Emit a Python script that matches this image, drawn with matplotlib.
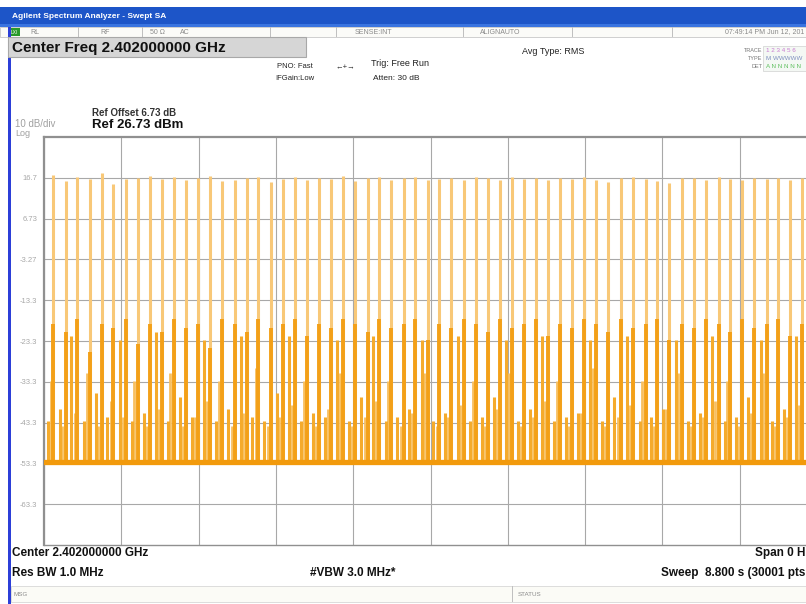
import matplotlib.pyplot as plt
from matplotlib.patches import Rectangle

plt.rcParams['font.family'] = ['Liberation Sans', 'DejaVu Sans']

# 화면 설정값
ref_level = 26.73
db_per_div = 10
sweep_time = 8.8
noise_floor = -53.0

y_ticks = [16.73, 6.73, -3.27, -13.27, -23.27, -33.27, -43.27, -53.27, -63.27]
y_tick_labels = ['16.7', '6.73', '-3.27', '-13.3', '-23.3', '-33.3', '-43.3', '-53.3', '-63.3']

# 큰 펄스 위치(s)와 피크(dBm)
pulse_t = [0.108, 0.245, 0.381, 0.518, 0.657, 0.789, 0.933, 1.067, 1.207, 1.340,
           1.480, 1.617, 1.753, 1.890, 2.026, 2.174, 2.308, 2.436, 2.581, 2.717,
           2.857, 2.994, 3.131, 3.267, 3.404, 3.540, 3.683, 3.819, 3.956, 4.093,
           4.229, 4.366, 4.502, 4.639, 4.781, 4.918, 5.054, 5.191, 5.328, 5.464,
           5.601, 5.737, 5.874, 6.011, 6.147, 6.284, 6.424, 6.565, 6.709, 6.853,
           6.975, 7.115, 7.260, 7.403, 7.536, 7.681, 7.810, 7.943, 8.086, 8.227,
           8.359, 8.493, 8.632]
pulse_pk = [17.5, 16.0, 17.0, 16.5, 17.8, 15.2, 16.4, 16.8, 17.2, 16.5,
            17.0, 16.2, 16.6, 17.1, 16.0, 16.3, 16.7, 16.9, 15.8, 16.4,
            17.0, 16.2, 16.8, 16.5, 17.2, 16.0, 16.6, 16.9, 16.3, 16.7,
            17.0, 16.1, 16.5, 16.8, 16.2, 16.9, 16.6, 16.3, 17.0, 16.4,
            16.7, 16.1, 16.8, 16.5, 16.9, 16.2, 15.6, 16.6, 16.9, 16.4,
            15.9, 15.4, 16.7, 16.8, 16.3, 16.9, 16.5, 16.1, 16.7, 16.4,
            16.8, 16.2, 16.6]
# 각 펄스 아래쪽의 진한 부분 높이(dBm)
pulse_mid = [-19, -21, -18, -26, -19, -20, -18, -24, -19, -21,
             -18, -20, -19, -25, -18, -19, -21, -18, -20, -19,
             -18, -22, -19, -20, -18, -19, -21, -18, -20, -19,
             -18, -23, -19, -20, -18, -19, -21, -18, -20, -19,
             -18, -22, -19, -20, -18, -19, -21, -18, -20, -19,
             -18, -23, -19, -20, -18, -19, -21, -18, -20, -19,
             -18, -22, -19]

# 펄스 사이의 작은 펄스 위치(s)와 피크(dBm)
minor_t = [0.05, 0.18, 0.31, 0.45, 0.59, 0.72, 0.86, 1.00, 1.14, 1.27,
           1.41, 1.55, 1.68, 1.82, 1.96, 2.10, 2.24, 2.37, 2.51, 2.65,
           2.79, 2.93, 3.06, 3.20, 3.34, 3.47, 3.61, 3.75, 3.89, 4.02,
           4.16, 4.30, 4.43, 4.57, 4.71, 4.85, 4.99, 5.12, 5.26, 5.40,
           5.53, 5.67, 5.81, 5.94, 6.08, 6.22, 6.35, 6.49, 6.64, 6.78,
           6.91, 7.05, 7.19, 7.33, 7.47, 7.61, 7.75, 7.88, 8.01, 8.16,
           8.29, 8.43, 8.56, 8.70]
minor_pk = [-43, -40, -22, -43, -36, -42, -23, -43, -41, -21,
            -43, -37, -42, -23, -43, -40, -22, -42, -43, -36,
            -22, -43, -41, -42, -23, -43, -37, -22, -43, -42,
            -40, -23, -43, -41, -22, -43, -42, -37, -23, -43,
            -40, -22, -43, -42, -41, -23, -43, -37, -22, -43,
            -42, -40, -23, -43, -41, -22, -43, -42, -37, -23,
            -43, -40, -22, -43]
minor2_t = [0.08, 0.21, 0.35, 0.49, 0.62, 0.76, 0.90, 1.03, 1.17, 1.31,
            1.44, 1.58, 1.72, 1.86, 1.99, 2.14, 2.27, 2.41, 2.55, 2.68,
            2.82, 2.96, 3.10, 3.23, 3.37, 3.51, 3.65, 3.78, 3.92, 4.06,
            4.19, 4.33, 4.47, 4.60, 4.74, 4.88, 5.02, 5.15, 5.29, 5.43,
            5.57, 5.70, 5.84, 5.98, 6.11, 6.25, 6.39, 6.53, 6.67, 6.81,
            6.94, 7.08, 7.22, 7.36, 7.50, 7.64, 7.78, 7.91, 8.05, 8.19,
            8.32, 8.46, 8.60, 8.74]
minor2_pk = [-33, -44, -41, -31, -44, -38, -42, -33, -44, -40,
             -31, -44, -42, -38, -33, -44, -41, -30, -44, -42,
             -39, -33, -44, -40, -31, -44, -42, -38, -33, -44,
             -41, -31, -44, -42, -39, -33, -44, -40, -31, -44,
             -42, -38, -33, -44, -41, -30, -44, -42, -39, -33,
             -44, -40, -31, -44, -42, -38, -33, -44, -41, -31,
             -44, -42, -39, -33]

W, H = 806, 604
fig = plt.figure(figsize=(W / 100, H / 100), dpi=100)


def px(x, y):
    return x / W, 1 - y / H


def box(x0, y0, x1, y1, fc, ec='none', lw=0.6, z=0):
    fig.patches.append(Rectangle(px(x0, y1), (x1 - x0) / W, (y1 - y0) / H,
                                 transform=fig.transFigure, fc=fc, ec=ec, lw=lw, zorder=z))


def txt(x, y, s, **kw):
    fig.text(*px(x, y), s, va='center', **kw)


# 상단 제목 바
box(0, 7, W, 27, '#1d55c8')
box(0, 24, W, 27, '#3a74e0')
txt(12, 16, 'Agilent Spectrum Analyzer - Swept SA', color='white', fontsize=6, fontweight='bold')

# 상태 줄
box(0, 27, W, 37, '#fbfbf8', ec='#c8c8c8')
box(10, 28, 20, 36, '#2a9a2a')
txt(11, 32, 'LXI', color='white', fontsize=3.5)
for sx in [78, 142, 205, 270, 336, 463, 572, 672]:
    box(sx, 27, sx + 0.5, 37, '#c0c0c0')
for sx, s in [(30, 'RL'), (100, 'RF'), (150, '50 Ω'), (180, 'AC'), (355, 'SENSE:INT'),
              (480, 'ALIGNAUTO')]:
    txt(sx, 32, s, color='#8a8a8a', fontsize=5)
txt(804, 32, '07:49:14 PM Jun 12, 201', color='#8a8a8a', fontsize=5, ha='right')

# 왼쪽 파란 테두리
box(8, 27, 11, H, '#2c3fd8')

# Center Freq 박스
box(8, 37, 306, 57, '#d6d6d6', ec='#a8a8a8', lw=0.8)
txt(12, 48, 'Center Freq 2.402000000 GHz', fontsize=11, fontweight='bold', color='#111111')

txt(295, 67, 'PNO: Fast', fontsize=5.5, ha='center', color='#222222')
txt(295, 78, 'IFGain:Low', fontsize=5.5, ha='center', color='#222222')
txt(345, 68, '←+→', fontsize=5.5, ha='center', color='#222222')
txt(371, 64, 'Trig: Free Run', fontsize=6.5, color='#222222')
txt(373, 78, 'Atten: 30 dB', fontsize=6, color='#222222')
txt(522, 51, 'Avg Type: RMS', fontsize=6.5, color='#222222')

txt(762, 51, 'TRACE', fontsize=4, ha='right', color='#777777')
txt(762, 59, 'TYPE', fontsize=4, ha='right', color='#777777')
txt(762, 67, 'DET', fontsize=4, ha='right', color='#777777')
box(763, 46, W, 71, '#f4f8f4', ec='#d0d0d0', lw=0.5)
txt(766, 51, '1 2 3 4 5 6', fontsize=4.5, color='#c87ad0')
txt(766, 59, 'M WWWWW', fontsize=4.5, color='#8090c0')
txt(766, 67, 'A N N N N N', fontsize=4.5, color='#60c060')

txt(92, 113, 'Ref Offset 6.73 dB', fontsize=7, fontweight='bold', color='#333333')
txt(92, 125, 'Ref 26.73 dBm', fontsize=9.5, fontweight='bold', color='#111111')
txt(15, 124, '10 dB/div', fontsize=7, color='#a0a0a0')
txt(15, 134, 'Log', fontsize=6.5, color='#a0a0a0')

# 측정 영역
ax = fig.add_axes([44 / W, 1 - 545 / H, 773 / W, (545 - 137) / H])
ax.set_xlim(0, sweep_time)
ax.set_ylim(ref_level - 10 * db_per_div, ref_level)
ax.set_xticks([sweep_time * i / 10 for i in range(11)])
ax.set_xticklabels([])
ax.set_yticks(y_ticks)
ax.set_yticklabels(y_tick_labels, fontsize=5.5, color='#a8a8a8')
ax.tick_params(length=0, pad=5)
ax.grid(True, color='#a8a8a8', lw=0.8)
ax.set_axisbelow(True)
for side, sp in ax.spines.items():
    sp.set_color('#909090')
    sp.set_linewidth(1.6 if side in ('left', 'top') else 1.0)

ax.vlines(minor2_t, noise_floor, minor2_pk, color='#f8c060', lw=2.0, zorder=2)
ax.vlines(minor_t, noise_floor, minor_pk, color='#f5ab2c', lw=2.2, zorder=2)
ax.vlines(pulse_t, noise_floor, pulse_pk, color='#f8c878', lw=2.2, zorder=3)
ax.vlines(pulse_t, noise_floor, pulse_mid, color='#f3a018', lw=2.8, zorder=4)
ax.axhline(noise_floor, color='#f29a0c', lw=3.8, zorder=5)

# 하단 정보 (오른쪽은 화면에서 잘린 그대로)
txt(12, 553, 'Center 2.402000000 GHz', fontsize=8.5, fontweight='bold', color='#111111')
txt(12, 573, 'Res BW 1.0 MHz', fontsize=8.5, fontweight='bold', color='#111111')
txt(310, 573, '#VBW 3.0 MHz*', fontsize=8.5, fontweight='bold', color='#111111')
txt(805, 553, 'Span 0 H', fontsize=8.5, fontweight='bold', color='#111111', ha='right')
txt(805, 573, 'Sweep  8.800 s (30001 pts', fontsize=8.5, fontweight='bold', color='#111111', ha='right')

box(11, 586, W, 602, '#fbfbf6', ec='#d0d0d0', lw=0.5)
box(512, 586, 512.5, 602, '#c0c0c0')
txt(13, 594, 'MSG', fontsize=4.5, color='#8a8a8a')
txt(518, 594, 'STATUS', fontsize=4.5, color='#8a8a8a')

fig.savefig('out.png', dpi=100)
